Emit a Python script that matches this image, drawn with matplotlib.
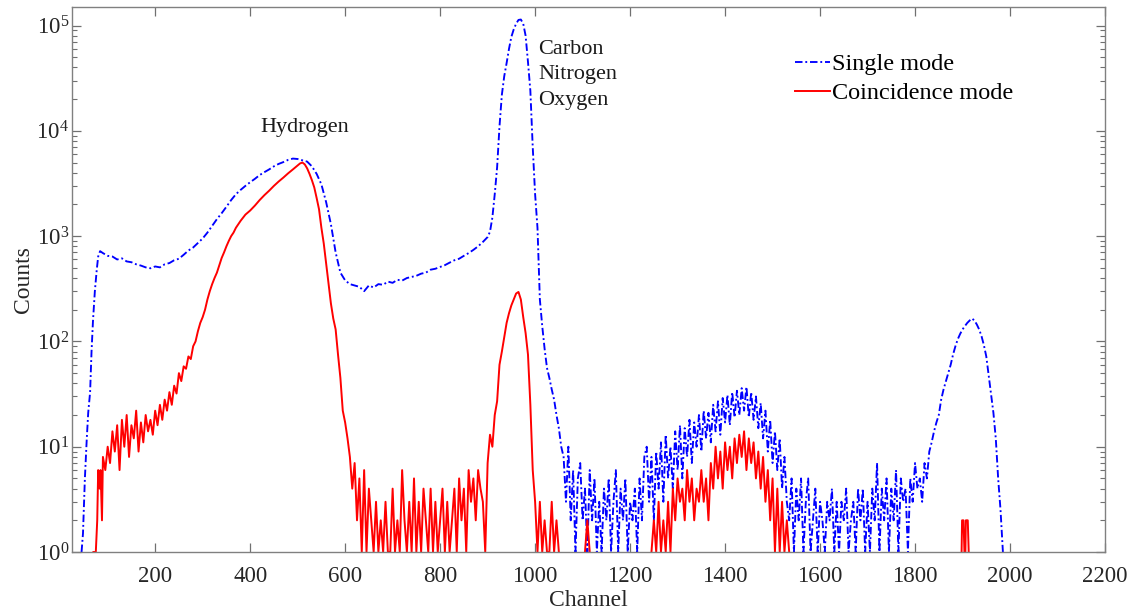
import matplotlib
matplotlib.use('Agg')
import matplotlib.pyplot as plt
import numpy as np

plt.rcParams['font.family'] = ['Liberation Serif', 'DejaVu Serif']
plt.rcParams['mathtext.fontset'] = 'custom'
plt.rcParams['mathtext.rm'] = 'Liberation Serif'
plt.rcParams['mathtext.it'] = 'Liberation Serif:italic'

# single mode spectrum (channel, counts)
single_ch = [
    45, 48, 52, 56, 59, 63, 66, 69, 73, 77, 80, 84, 88,
    90, 100, 110, 120, 130, 140, 150, 160, 170, 180, 190, 200, 210, 220, 230,
    240, 250, 260, 270, 280, 290, 300, 310, 320, 330, 340, 350, 360, 370, 380,
    390, 400, 410, 420, 430, 440, 450, 460, 470, 480, 490, 500, 510, 520, 530,
    540, 550, 560, 570, 580, 590, 600, 610, 620,
    630, 640, 650, 660, 670, 680, 690, 700, 710, 720, 730, 740, 750, 760, 770,
    780, 790, 800, 810, 820, 830, 840, 850, 860, 870, 880, 890, 900, 905,
    910, 915, 920, 925, 930, 935, 940, 945, 950, 955, 960, 965, 970, 975, 980,
    985, 990, 995, 1000, 1005, 1010, 1015, 1020, 1025, 1030, 1035, 1040, 1045,
    1050, 1055,
    1060, 1065, 1070, 1075, 1080, 1085, 1090, 1095, 1100, 1105, 1110, 1115,
    1120, 1125, 1130, 1135, 1140, 1145, 1150, 1155, 1160, 1165, 1170, 1175,
    1180, 1185, 1190, 1195, 1200, 1205, 1210, 1215, 1220, 1225, 1230,
    1235, 1240, 1245, 1250, 1255, 1260, 1265, 1270, 1275, 1280, 1285, 1290,
    1295, 1300, 1305, 1310, 1315, 1320, 1325, 1330, 1335, 1340, 1345, 1350,
    1355, 1360, 1365, 1370, 1375, 1380, 1385, 1390, 1395, 1400, 1405, 1410,
    1415, 1420, 1425, 1430, 1435, 1440, 1445, 1450, 1455, 1460, 1465, 1470,
    1475, 1480, 1485, 1490, 1495, 1500, 1505, 1510, 1515, 1520, 1525, 1530,
    1535, 1540, 1545, 1550, 1555, 1560, 1565, 1570, 1575, 1580, 1585, 1590,
    1595, 1600, 1605, 1610, 1615, 1620, 1625, 1630, 1635, 1640, 1645, 1650,
    1655, 1660, 1665, 1670, 1675, 1680, 1685, 1690, 1695, 1700, 1705, 1710,
    1715, 1720, 1725, 1730, 1735, 1740, 1745, 1750, 1755, 1760, 1765, 1770,
    1775, 1780, 1785, 1790, 1795, 1800, 1805, 1810, 1815, 1820, 1825,
    1830, 1835, 1840, 1845, 1850, 1855, 1860, 1865, 1870, 1875, 1880, 1885,
    1890, 1895, 1900, 1905, 1910, 1915, 1920, 1925, 1930, 1935, 1940, 1945,
    1950, 1955, 1960, 1965, 1970, 1975, 1980, 1985,
]
single_counts = [
    1, 1.5, 5, 12, 21, 33, 80, 155, 300, 480, 640, 720, 700,
    690, 650, 640, 600, 615, 575, 565, 540, 525, 505, 495, 515, 505, 540, 555,
    590, 610, 665, 730, 780, 860, 950, 1080, 1250, 1450, 1650, 1900, 2200, 2500, 2750,
    3000, 3250, 3500, 3800, 4050, 4300, 4600, 4850, 5050, 5300, 5450, 5400, 5250, 5100, 4600,
    3900, 3100, 2100, 1300, 700, 450, 380, 350, 340,
    330, 300, 340, 325, 350, 345, 370, 360, 385, 378, 400, 410, 420, 440, 450,
    480, 490, 510, 530, 560, 590, 610, 650, 690, 740, 800, 880, 980, 1100,
    1500, 2500, 4500, 11000, 22000, 33000, 44000, 60000, 78000, 92000, 104000, 113000, 114000, 104000, 80000,
    45000, 24000, 7000, 2500, 1200, 250, 140, 85, 56, 45, 35, 28, 20,
    15, 10,
    8, 3, 10, 2, 6, 1, 5, 7, 2, 4, 1, 6,
    2, 5, 1, 3, 1, 4, 2, 5, 1, 3, 6, 1,
    4, 2, 5, 1, 3, 2, 4, 1, 5, 2, 8,
    10, 3, 8, 2, 9, 4, 11, 3, 13, 5, 10, 4,
    14, 6, 16, 5, 15, 8, 18, 7, 17, 10, 20, 9,
    22, 12, 21, 11, 25, 14, 27, 13, 29, 17, 31, 16,
    33, 19, 34, 20, 36, 22, 37, 19, 33, 18, 30, 15,
    26, 12, 22, 9, 18, 7, 14, 6, 12, 4, 8, 3,
    2, 5, 1, 4, 2, 5, 1, 3, 5, 1, 2, 4,
    1, 3, 2, 1, 3, 2, 4, 1, 3, 1, 3, 2,
    4, 1, 2, 3, 1, 4, 2, 4, 1, 3, 1, 4,
    2, 7, 1, 4, 2, 5, 1, 4, 2, 6, 1, 5,
    3, 4, 1, 5, 3, 7, 4, 5, 3, 7, 5,
    9, 11, 14, 17, 20, 28, 35, 42, 50, 60, 75, 90,
    105, 118, 130, 140, 150, 158, 165, 158, 145, 130, 112, 92,
    72, 48, 32, 21, 12, 5, 2.5, 1,
]

# coincidence mode spectrum, 0 = no counts
coinc_ch = [
    70, 75, 78, 80, 83, 85, 88, 90, 95, 100, 105, 110, 115, 120, 125, 130,
    135, 140, 145, 150, 155, 160, 165, 170, 175, 180, 185, 190, 195, 200,
    205, 210, 215, 220, 225, 230, 235, 240, 245, 250, 255, 260, 265, 270,
    275, 280, 285, 290, 295, 300, 305, 310, 315, 320, 325, 330, 335, 340,
    345, 350, 355, 360, 365, 370, 380, 390, 400, 410, 420, 430, 440, 450,
    460, 470, 480, 490, 500, 505, 510, 515, 520, 525, 530, 535, 540, 545,
    550, 555, 560, 565, 570, 575, 580, 585, 590, 595, 600, 605, 610,
    615, 620, 625, 630, 635, 640, 645, 650, 655, 660, 665, 670, 675, 680,
    685, 690, 695, 700, 705, 710, 715, 720, 725, 730, 735, 740, 745, 750,
    755, 760, 765, 770, 775, 780, 785, 790, 795, 800, 805, 810, 815, 820,
    825, 830, 835, 840, 845, 850, 855, 860, 865, 870, 875, 880, 885, 890, 895,
    900, 905, 910, 915, 920, 925, 930, 935, 940, 945, 950, 955, 960, 965,
    970, 975, 980, 985, 990, 995, 1000, 1005, 1010, 1015, 1020, 1025, 1030,
    1035, 1040, 1045, 1050, 1055, 1100, 1105, 1110, 1115, 1240,
    1245, 1250, 1255, 1260, 1265, 1270, 1275, 1280, 1285, 1290, 1295, 1300,
    1305, 1310, 1315, 1320, 1325, 1330, 1335, 1340, 1345, 1350, 1355, 1360,
    1365, 1370, 1375, 1380, 1385, 1390, 1395, 1400, 1405, 1410, 1415, 1420,
    1425, 1430, 1435, 1440, 1445, 1450, 1455, 1460, 1465, 1470, 1475, 1480,
    1485, 1490, 1495, 1500, 1505, 1510, 1515, 1520, 1525, 1530, 1535, 1540,
    1896, 1898, 1899, 1902, 1904, 1906, 1907, 1911, 1913, 1915,
]
coinc_counts = [
    1, 1, 2, 6, 4, 6, 2, 8, 6, 10, 7, 14, 9, 16, 6, 18,
    10, 20, 8, 16, 12, 22, 9, 17, 11, 20, 14, 18, 13, 22,
    16, 25, 18, 28, 22, 33, 25, 38, 32, 50, 42, 58, 55, 72,
    68, 90, 100, 125, 150, 170, 200, 250, 300, 350, 400, 450, 530, 620,
    700, 800, 900, 1000, 1080, 1200, 1400, 1600, 1750, 1950, 2200, 2450, 2700, 3000,
    3300, 3600, 3950, 4300, 4700, 4900, 5000, 4800, 4400, 3900, 3400, 2900, 2300, 1800,
    1200, 850, 550, 350, 230, 165, 130, 75, 45, 22, 17, 12, 8,
    4, 7, 2, 5, 1, 6, 1, 4, 2, 1, 3, 1, 2, 1,
    3, 1, 1, 4, 1, 2, 1, 6, 2, 1, 3, 1, 5, 1,
    3, 1, 4, 2, 1, 4, 1, 3, 1, 2, 4, 1, 3, 1,
    2, 4, 1, 5, 2, 4, 1, 6, 3, 5, 2, 6, 4, 3, 1,
    7, 13, 10, 20, 27, 60, 80, 110, 150, 185, 220, 250, 285, 295,
    250, 170, 120, 75, 25, 6, 3, 1, 3, 1, 2, 1, 1,
    3, 1, 2, 1, 0, 0, 1, 2, 1, 0,
    1, 2, 1, 3, 1, 2, 1, 3, 1, 4, 2, 5,
    3, 4, 2, 6, 3, 5, 2, 4, 3, 6, 3, 5,
    2, 7, 4, 10, 5, 9, 4, 11, 6, 10, 5, 12,
    7, 13, 8, 14, 6, 12, 7, 11, 5, 9, 4, 8,
    3, 6, 2, 5, 1, 4, 1, 3, 1, 2, 1, 0,
    0, 1, 2, 2, 1, 1, 2, 2, 1, 0,
]

x_ticks = [200, 400, 600, 800, 1000, 1200, 1400, 1600, 1800, 2000, 2200]
y_ticks = [1, 10, 100, 1000, 10000, 100000]

fig = plt.figure(figsize=(11.33, 6.12), dpi=100)
ax = fig.add_axes([0.0636, 0.098, 0.9117, 0.8906])

ax.plot(single_ch, single_counts, color='#0000ff', linestyle=(0, (4, 1.5, 1, 1.5)),
        linewidth=1.35, label='Single mode')
ax.plot(coinc_ch, coinc_counts, color='#ff0000', linestyle='-',
        linewidth=1.4, label='Coincidence mode')

ax.set_yscale('log', nonpositive='mask')
ax.set_xlim(25, 2200)
ax.set_ylim(1, 1.5e5)
ax.set_xticks(x_ticks)
ax.set_xticklabels([str(t) for t in x_ticks])
ax.set_yticks(y_ticks)
ax.set_yticklabels([r'$10^{%d}$' % int(np.log10(t)) for t in y_ticks])
ax.xaxis.set_minor_locator(matplotlib.ticker.NullLocator())
ax.yaxis.set_minor_locator(matplotlib.ticker.LogLocator(base=10, subs=np.arange(2, 10)))
ax.yaxis.set_minor_formatter(matplotlib.ticker.NullFormatter())

ax.tick_params(which='both', direction='in', top=True, right=True,
               color='#707070', labelcolor='#262626', labelsize=16.5)
ax.tick_params(which='major', length=6.5, width=0.9)
ax.tick_params(which='minor', length=3.5, width=0.8)
ax.tick_params(axis='x', pad=10)
ax.tick_params(axis='y', pad=2)
for s in ax.spines.values():
    s.set_color('#808080')
    s.set_linewidth(1.0)

ax.set_xlabel('Channel', fontsize=17, color='#262626', labelpad=2)
ax.set_ylabel('Counts', fontsize=17, color='#262626', labelpad=2)

ax.text(515, 1.07e4, 'Hydrogen', fontsize=16, color='#1a1a1a', ha='center', va='center')
ax.text(1006, 3.4e4, 'Carbon\nNitrogen\nOxygen', fontsize=16, color='#1a1a1a',
        ha='left', va='center', linespacing=1.45)

ax.legend(loc='upper left', bbox_to_anchor=(0.7, 0.915), frameon=False,
          fontsize=17.5, handlelength=1.45, handletextpad=0.05, labelspacing=0.28,
          borderaxespad=0, borderpad=0)

fig.savefig('out.png', dpi=100)
